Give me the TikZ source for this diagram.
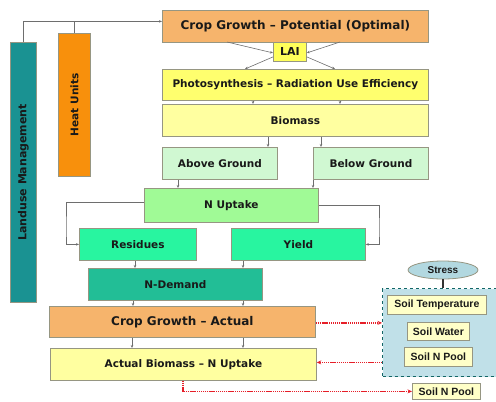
\documentclass[tikz,border=0pt]{standalone}
\usepackage{fontspec}
\setmainfont{DejaVu Sans}
\newfontfamily\arialfont{Liberation Sans}
\usetikzlibrary{arrows.meta,shapes.geometric}
\definecolor{cgorange}{RGB}{246,180,108}
\definecolor{laiyel}{RGB}{255,255,90}
\definecolor{photoyel}{RGB}{255,255,110}
\definecolor{bioyel}{RGB}{255,255,160}
\definecolor{agreen}{RGB}{208,248,210}
\definecolor{nugreen}{RGB}{160,250,150}
\definecolor{resgreen}{RGB}{40,245,160}
\definecolor{ndteal}{RGB}{34,190,150}
\definecolor{lmteal}{RGB}{26,146,146}
\definecolor{huorange}{RGB}{248,144,12}
\definecolor{stressblue}{RGB}{178,216,224}
\definecolor{boxblue}{RGB}{192,224,232}
\definecolor{soilyel}{RGB}{255,255,200}
\definecolor{bordergray}{RGB}{150,150,130}
\definecolor{txt}{RGB}{25,25,25}
\definecolor{lineg}{RGB}{110,110,110}
\definecolor{dotred}{RGB}{230,30,40}
\tikzset{
  x=1pt,y=-1pt,
  box/.style={draw=bordergray, line width=0.8pt, anchor=north west, inner sep=0pt,
    font=\bfseries\fontsize{10.5}{12}\selectfont, text=txt},
  bigtxt/.style={font=\bfseries\fontsize{12}{14}\selectfont},
  soil/.style={box, fill=soilyel, font=\arialfont\bfseries\fontsize{10.5}{12}\selectfont},
  arr/.style={draw=lineg, line width=0.6pt, -{Stealth[length=3pt,width=2.5pt]}},
  plain/.style={draw=lineg, line width=0.6pt},
  redarr/.style={draw=dotred, line width=1.3pt, dash pattern=on 1.2pt off 0.7pt, -{Stealth[length=4.5pt,width=4pt,fill=dotred]}}
}
\begin{document}
\begin{tikzpicture}
\useasboundingbox (0,0) rectangle (496,402);
% boxes
\node[box, fill=cgorange, minimum width=266, minimum height=32, bigtxt] (cgp) at (162,10) {Crop Growth -- Potential (Optimal)};
\node[box, fill=laiyel, minimum width=33, minimum height=19, font=\bfseries\fontsize{11}{12}\selectfont] (lai) at (273,42) {LAI};
\node[box, fill=photoyel, minimum width=266, minimum height=31] (ps) at (162,69) {Photosynthesis -- Radiation Use Efficiency};
\node[box, fill=bioyel, minimum width=266, minimum height=32] (bio) at (162,104) {Biomass};
\node[box, fill=agreen, minimum width=115, minimum height=32] (ag) at (162,147) {Above Ground};
\node[box, fill=agreen, minimum width=115, minimum height=32] (bg) at (313,147) {Below Ground};
\node[box, fill=nugreen, minimum width=174, minimum height=34] (nu) at (144,188) {N Uptake};
\node[box, fill=resgreen, minimum width=117, minimum height=32] (res) at (79,228) {Residues};
\node[box, fill=resgreen, minimum width=134, minimum height=32] (yld) at (231,228) {Yield};
\node[box, fill=ndteal, minimum width=174, minimum height=32] (nd) at (88,268) {N-Demand};
\node[box, fill=cgorange, minimum width=266, minimum height=31, bigtxt] (cga) at (49,306) {Crop Growth -- Actual};
\node[box, fill=bioyel, minimum width=266, minimum height=32] (ab) at (50,348) {Actual Biomass -- N Uptake};
\node[box, fill=lmteal, minimum width=26, minimum height=260] (lm) at (10,42) {};
\node[font=\bfseries\fontsize{11}{12}\selectfont, text=txt, rotate=90] (lmt) at (lm.center) {Landuse Management};
\node[box, fill=huorange, minimum width=32, minimum height=143] (hu) at (58,33) {};
\node[font=\bfseries\fontsize{10.5}{12}\selectfont, text=txt, rotate=90] (hut) at (hu.center) {Heat Units};
% stress area
\node[box, fill=boxblue, draw=lmteal!70!black, dashed, line width=1.2pt, minimum width=118, minimum height=88] (sbox) at (382,288) {};
\node[draw=bordergray, line width=0.8pt, fill=stressblue, ellipse, minimum width=70, minimum height=18, inner sep=0pt, font=\arialfont\bfseries\fontsize{10}{12}\selectfont, text=txt] (st) at (443,270) {Stress};
\node[soil, minimum width=99, minimum height=19] (stemp) at (387,295) {Soil Temperature};
\node[soil, minimum width=62, minimum height=18] (swat) at (407,322) {Soil Water};
\node[soil, minimum width=68, minimum height=19] (snp) at (404,347) {Soil N Pool};
\node[soil, minimum width=68, minimum height=16] (snp2) at (412,383) {Soil N Pool};
% connectors
\coordinate (top) at (23,21);
\draw[arr] (lm.north) |- ([yshift=5pt]cgp.west);
\draw[plain] (hu.north) -- (hu.north |- top);
\draw[arr] (227,42) -- ([yshift=-1pt]lai.west);
\draw[arr] (340,42) -- ([yshift=-1pt]lai.east);
\draw[arr] ([yshift=-5pt]lai.west) -- (245,69);
\draw[arr] ([yshift=-5pt]lai.east) -- (335,69);
\draw[arr] (ps.south -| 253,0) -- (bio.north -| 253,0);
\draw[arr] (ps.south -| 340,0) -- (bio.north -| 340,0);
\draw[arr] (bio.south -| 268,0) -- (ag.north -| 268,0);
\draw[arr] (bio.south -| 321,0) -- (bg.north -| 321,0);
\draw[arr] (ag.south -| 178,0) -- (nu.north -| 178,0);
\draw[arr] (bg.south -| 313,0) -- (nu.north -| 313,0);
\draw[arr] ([yshift=3pt]nu.west) -| (66,230) |- (res.west);
\draw[arr] (nu.east) -| (379,230) |- (yld.east);
\draw[arr] (res.south -| 135,0) -- (nd.north -| 135,0);
\draw[arr] (yld.south -| 243,0) -- (nd.north -| 243,0);
\draw[arr] (nd.south -| 133,0) -- (cga.north -| 133,0);
\draw[arr] (nd.south -| 243,0) -- (cga.north -| 243,0);
\draw[arr] (cga.south -| 132,0) -- (ab.north -| 132,0);
\draw[arr] (cga.south -| 243,0) -- (ab.north -| 243,0);
\draw[redarr] ([yshift=-1pt]cga.east) -- ([yshift=-1pt]cga.east -| sbox.west);
\draw[redarr] ([yshift=2pt]ab.east -| sbox.west) -- ([yshift=2pt]ab.east);
\draw[redarr] (ab.south -| 183,0) |- (snp2.west);
\draw[line width=1.2pt, draw=black!80] (st.south) -- (st.south |- sbox.north);
\end{tikzpicture}
\end{document}
